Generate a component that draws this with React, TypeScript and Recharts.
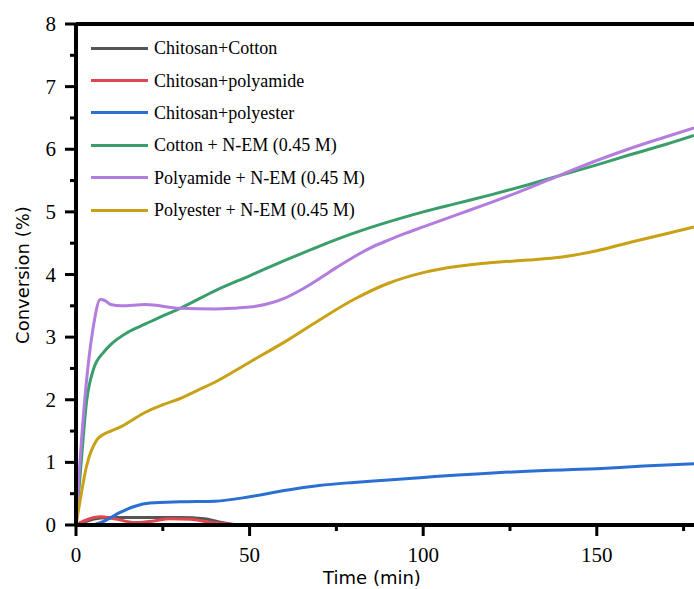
import { LineChart, Line, XAxis, YAxis, ReferenceLine, Label } from "recharts";

// time (min) / conversion (%)
const chitosanCottonTime = [0, 3, 7, 10, 20, 30, 37, 42, 46];
const chitosanCottonConv = [0, 0.06, 0.11, 0.12, 0.12, 0.12, 0.1, 0.04, 0];

const chitosanPolyamideTime = [0, 3, 7, 11, 17, 22, 27, 33, 38, 43, 48];
const chitosanPolyamideConv = [0, 0.08, 0.13, 0.1, 0.04, 0.06, 0.1, 0.09, 0.05, 0.02, 0];

const chitosanPolyesterTime = [0, 4, 8, 12.7, 17, 21.3, 30, 40, 50, 60, 70, 80, 90, 100, 110, 120, 130, 140, 150, 160, 170, 178];
const chitosanPolyesterConv = [0, 0, 0.06, 0.2, 0.3, 0.35, 0.37, 0.38, 0.45, 0.55, 0.63, 0.68, 0.72, 0.76, 0.8, 0.83, 0.86, 0.88, 0.9, 0.93, 0.96, 0.98];

const cottonNemTime = [0, 1.5, 3, 5, 8, 10, 15, 20, 25, 30, 40, 50, 60, 70, 80, 90, 100, 110, 120, 130, 140, 150, 160, 170, 178];
const cottonNemConv = [0, 1.0, 1.95, 2.48, 2.76, 2.88, 3.08, 3.21, 3.34, 3.46, 3.74, 3.98, 4.22, 4.45, 4.66, 4.84, 5.0, 5.14, 5.28, 5.43, 5.59, 5.75, 5.92, 6.08, 6.22];

const polyamideNemTime = [0, 1, 2.6, 5, 7, 8.5, 10, 13, 20, 30, 40, 45, 50, 55, 60, 65, 70, 75, 80, 85, 90, 95, 100, 110, 120, 130, 140, 150, 160, 170, 178];
const polyamideNemConv = [0, 0.9, 2.05, 3.17, 3.6, 3.58, 3.52, 3.5, 3.52, 3.46, 3.45, 3.46, 3.48, 3.53, 3.62, 3.76, 3.93, 4.11, 4.28, 4.43, 4.55, 4.66, 4.76, 4.96, 5.16, 5.37, 5.6, 5.82, 6.02, 6.2, 6.34];

const polyesterNemTime = [0, 1.2, 3, 6, 8, 10, 13, 16, 20, 25, 30, 35, 40, 50, 60, 70, 80, 90, 100, 110, 120, 130, 140, 150, 160, 170, 178];
const polyesterNemConv = [0, 0.4, 0.93, 1.36, 1.45, 1.5, 1.57, 1.67, 1.8, 1.92, 2.02, 2.15, 2.28, 2.6, 2.92, 3.27, 3.6, 3.86, 4.03, 4.13, 4.19, 4.23, 4.28, 4.38, 4.52, 4.65, 4.76];

const xTicks = [0, 25, 50, 75, 100, 125, 150, 175];
const yTicks = [0, 0.5, 1, 1.5, 2, 2.5, 3, 3.5, 4, 4.5, 5, 5.5, 6, 6.5, 7, 7.5, 8];

const toPoints = (t: number[], v: number[]) => t.map((x, i) => ({ t: x, v: v[i] }));

const series = [
  { name: "Chitosan+Cotton", color: "#555555", data: toPoints(chitosanCottonTime, chitosanCottonConv) },
  { name: "Chitosan+polyamide", color: "#e0464d", data: toPoints(chitosanPolyamideTime, chitosanPolyamideConv) },
  { name: "Chitosan+polyester", color: "#2b6fd3", data: toPoints(chitosanPolyesterTime, chitosanPolyesterConv) },
  { name: "Cotton + N-EM (0.45 M)", color: "#3a9e6a", data: toPoints(cottonNemTime, cottonNemConv) },
  { name: "Polyamide + N-EM (0.45 M)", color: "#b27ddf", data: toPoints(polyamideNemTime, polyamideNemConv) },
  { name: "Polyester + N-EM (0.45 M)", color: "#c9a116", data: toPoints(polyesterNemTime, polyesterNemConv) },
];

const serif = "'Liberation Serif', 'Times New Roman', serif";
const sans = "'DejaVu Sans', sans-serif";

function XTick({ x, y, payload }: any) {
  const major = payload.value % 50 === 0;
  return (
    <g>
      <line x1={x} x2={x} y1={y} y2={y + (major ? 11 : 6)} stroke="#000" strokeWidth={3} />
      {major && (
        <text x={x} y={y + 37} textAnchor="middle" fontFamily={serif} fontSize={21} fill="#000">
          {payload.value}
        </text>
      )}
    </g>
  );
}

function YTick({ x, y, payload }: any) {
  const major = Number.isInteger(payload.value);
  return (
    <g>
      <line x1={x - (major ? 11 : 6)} x2={x} y1={y} y2={y} stroke="#000" strokeWidth={3} />
      {major && (
        <text x={x - 20} y={y + 7} textAnchor="end" fontFamily={serif} fontSize={21} fill="#000">
          {payload.value}
        </text>
      )}
    </g>
  );
}

export default function App() {
  return (
    <div style={{ position: "absolute", left: 0, top: 0, width: 694, height: 589, background: "#fff" }}>
      <LineChart width={694} height={589} margin={{ top: 24, right: 0, bottom: 0, left: 0 }}>
        <XAxis
          dataKey="t"
          type="number"
          domain={[0, 178]}
          ticks={xTicks}
          interval={0}
          height={64}
          tickSize={0}
          tickMargin={0}
          tickLine={false}
          tick={<XTick />}
          axisLine={{ stroke: "#000", strokeWidth: 4 }}
          allowDataOverflow
        >
          <Label
            content={() => (
              <text x={372} y={584} textAnchor="middle" fontFamily={sans} fontSize={18} fill="#000">
                Time (min)
              </text>
            )}
          />
        </XAxis>
        <YAxis
          type="number"
          domain={[0, 8]}
          ticks={yTicks}
          interval={0}
          width={76}
          tickSize={0}
          tickMargin={0}
          tickLine={false}
          tick={<YTick />}
          axisLine={{ stroke: "#000", strokeWidth: 4 }}
          allowDataOverflow
        >
          <Label
            content={() => (
              <text
                x={22}
                y={275}
                transform="rotate(-90, 22, 275)"
                textAnchor="middle"
                dominantBaseline="central"
                fontFamily={sans}
                fontSize={18}
                fill="#000"
              >
                Conversion (%)
              </text>
            )}
          />
        </YAxis>
        <ReferenceLine y={8} stroke="#000" strokeWidth={4} />
        {series.map((s) => (
          <Line
            key={s.name}
            data={s.data}
            dataKey="v"
            name={s.name}
            type="monotone"
            stroke={s.color}
            strokeWidth={3}
            dot={false}
            activeDot={false}
            isAnimationActive={false}
          />
        ))}
      </LineChart>
      <div style={{ position: "absolute", left: 91, top: 32 }}>
        {series.map((s) => (
          <div key={s.name} style={{ display: "flex", alignItems: "center", height: 32.4 }}>
            <div style={{ width: 57, height: 3, background: s.color, marginRight: 6 }} />
            <span style={{ fontFamily: serif, fontSize: 18, color: "#000", lineHeight: "20px" }}>{s.name}</span>
          </div>
        ))}
      </div>
    </div>
  );
}
